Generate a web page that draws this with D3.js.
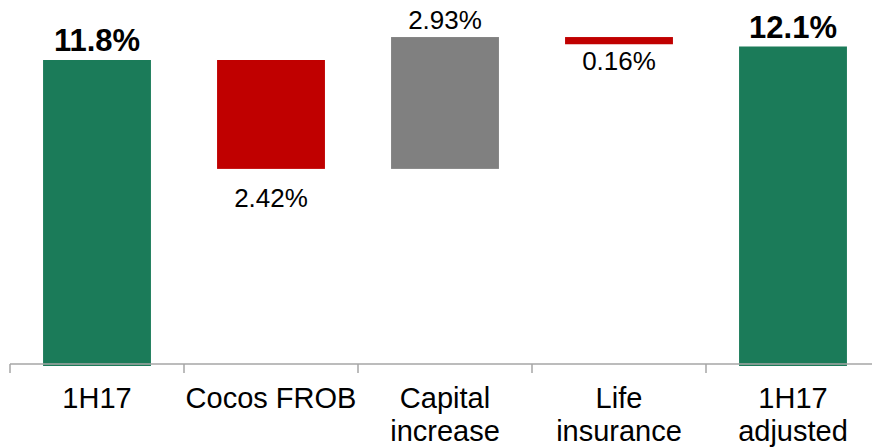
<!DOCTYPE html>
<html>
<head>
<meta charset="utf-8">
<script src="https://cdn.jsdelivr.net/npm/d3@7"></script>
<style>
  body { margin: 0; background: #fff; }
  text { font-family: "Liberation Sans", Arial, sans-serif; fill: #000; }
</style>
</head>
<body>
<svg id="chart" width="872" height="447"></svg>
<script>
// waterfall data
const categories = [["1H17"], ["Cocos FROB"], ["Capital", "increase"], ["Life", "insurance"], ["1H17", "adjusted"]];
const deltas = [11.8, -2.42, 2.93, -0.16, 12.1];
const kinds = ["total", "change", "change", "change", "total"];
const labels = ["11.8%", "2.42%", "2.93%", "0.16%", "12.1%"];
const barColors = ["#1b7b59", "#c00000", "#808080", "#c00000", "#1b7b59"];

const width = 872, height = 447;
const svg = d3.select("#chart");

// compute start / end of each step
let running = 0;
const steps = deltas.map((d, i) => {
    let start, end;
    if (kinds[i] === "total") { start = 0; end = d; running = d; }
    else { start = running; end = running + d; running = end; }
    return { i, start, end, delta: d };
});

const x = d3.scaleBand()
    .domain(d3.range(categories.length))
    .range([10, 880])
    .paddingInner(0.38)
    .paddingOuter(0.19);

const yMin = 5;
const y = d3.scaleLinear().domain([yMin, 13]).range([366, 6]);

const lo = v => Math.max(v, yMin);

svg.selectAll("rect.bar")
    .data(steps)
    .join("rect")
    .attr("class", "bar")
    .attr("x", d => x(d.i))
    .attr("width", x.bandwidth())
    .attr("y", d => y(Math.max(lo(d.start), lo(d.end))))
    .attr("height", d => Math.abs(y(lo(d.start)) - y(lo(d.end))))
    .attr("fill", d => barColors[d.i]);

// axis line with ticks at band boundaries
const axisY = 364;
const step = x.step();
svg.append("line")
    .attr("x1", 10).attr("x2", width)
    .attr("y1", axisY).attr("y2", axisY)
    .attr("stroke", "#a6a6a6").attr("stroke-width", 1.5);

svg.selectAll("line.tick")
    .data(d3.range(categories.length))
    .join("line")
    .attr("class", "tick")
    .attr("x1", i => 10 + i * step).attr("x2", i => 10 + i * step)
    .attr("y1", axisY).attr("y2", axisY + 9)
    .attr("stroke", "#a6a6a6").attr("stroke-width", 1.5);

// category labels
const catText = svg.selectAll("text.cat")
    .data(categories)
    .join("text")
    .attr("class", "cat")
    .attr("text-anchor", "middle")
    .attr("font-size", 29)
    .attr("x", (d, i) => x(i) + x.bandwidth() / 2)
    .attr("y", 408);
catText.selectAll("tspan")
    .data(d => d)
    .join("tspan")
    .attr("x", function () { return d3.select(this.parentNode).attr("x"); })
    .attr("dy", (d, j) => j === 0 ? 0 : 33)
    .text(d => d);

// value labels
svg.selectAll("text.val")
    .data(steps)
    .join("text")
    .attr("class", "val")
    .attr("text-anchor", "middle")
    .attr("font-size", d => kinds[d.i] === "total" ? 31 : 26)
    .attr("font-weight", d => kinds[d.i] === "total" ? "bold" : "normal")
    .attr("x", d => x(d.i) + x.bandwidth() / 2)
    .attr("y", d => {
        const top = y(Math.max(d.start, d.end));
        const bottom = y(Math.min(d.start, d.end));
        if (d.delta < 0 && kinds[d.i] === "change") return bottom + (bottom - top < 20 ? 26 : 38);
        return top - (kinds[d.i] === "total" ? 9 : 8);
    })
    .text(d => labels[d.i]);
</script>
</body>
</html>
